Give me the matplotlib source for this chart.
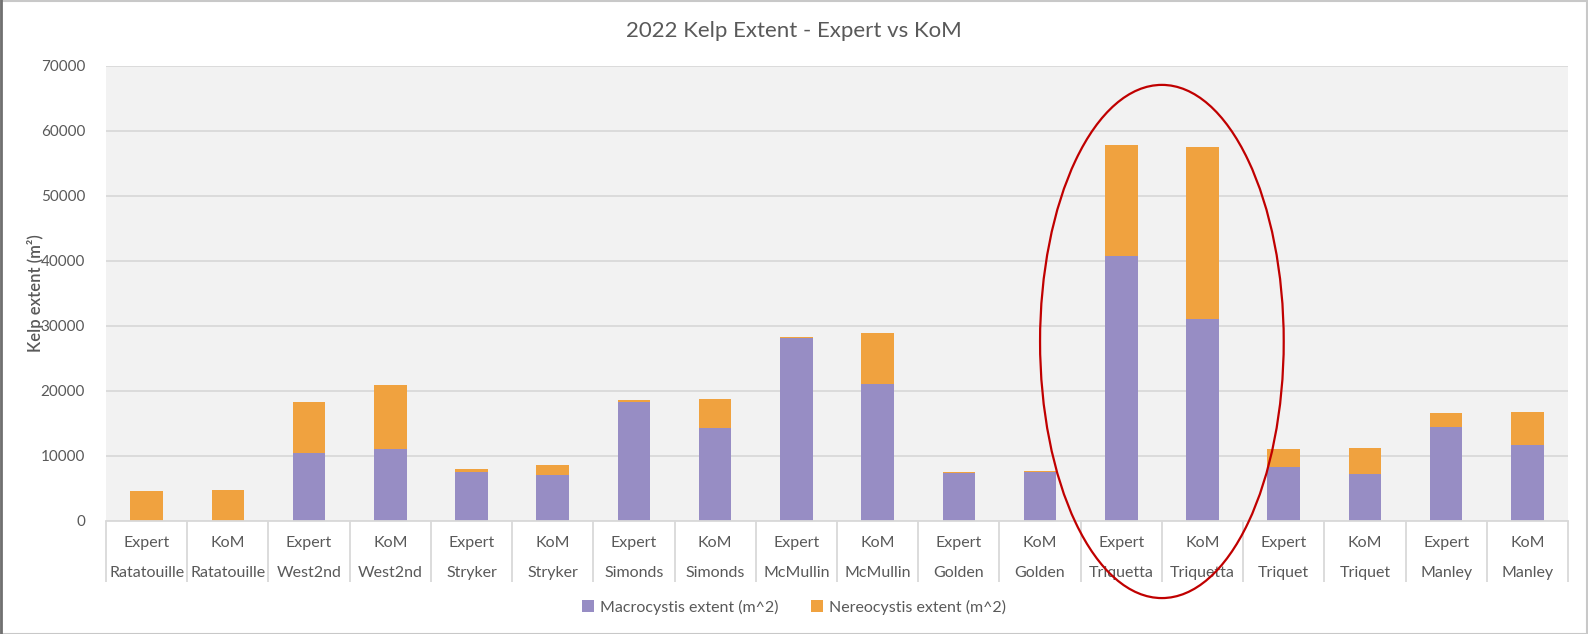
import matplotlib
matplotlib.use("Agg")
import matplotlib.pyplot as plt
import matplotlib.patches as mpatches
import numpy as np

# ── Data ─────────────────────────────────────────────────────────────────────
sites   = ["Ratatouille", "Ratatouille", "West2nd", "West2nd", "Stryker", "Stryker",
           "Simonds", "Simonds", "McMullin", "McMullin", "Golden", "Golden",
           "Triquetta", "Triquetta", "Triquet", "Triquet", "Manley", "Manley"]
sources = ["Expert", "KoM"] * 9
macro   = [0, 0, 10500, 11050, 7600, 7050, 18250, 14300, 28150, 21000,
           7350, 7500, 40800, 31100, 8300, 7250, 14450, 11750]
nereo   = [4650, 4800, 7850, 9850, 380, 1500, 380, 4450, 200, 7900,
           200, 220, 17050, 26350, 2750, 3950, 2100, 4950]
highlight_site = "Triquetta"

# ── Palette ──────────────────────────────────────────────────────────────────
_PURPLE = "#978DC4"
_ORANGE = "#F0A23F"
_PANEL  = "#F2F2F2"
_GRID   = "#D9D9D9"
_TEXT   = "#595959"
_RED    = "#C00000"

plt.rcParams["font.family"] = ["Lato", "DejaVu Sans"]

W, H = 1588, 634
fig = plt.figure(figsize=(W / 100, H / 100), dpi=100)
fig.patch.set_facecolor("white")

ax_l, ax_r, ax_t, ax_b = 106, 1568, 65.7, 521
ax = fig.add_axes([ax_l / W, 1 - ax_b / H, (ax_r - ax_l) / W, (ax_b - ax_t) / H])
ax.set_facecolor(_PANEL)

x = np.arange(len(sites))
ax.bar(x, macro, width=0.4, color=_PURPLE, zorder=3, label="Macrocystis extent (m^2)")
ax.bar(x, nereo, width=0.4, bottom=macro, color=_ORANGE, zorder=3,
       label="Nereocystis extent (m^2)")

ax.set_xlim(-0.5, len(sites) - 0.5)
ax.set_ylim(0, 70000)
ax.set_yticks(np.arange(0, 70001, 10000))
ax.yaxis.grid(True, color=_GRID, linewidth=1.3, zorder=0)
ax.tick_params(axis="y", length=0, pad=15, labelsize=11, labelcolor=_TEXT)
for s in ax.spines.values():
    s.set_visible(False)

# category "table" under the axis
ax.axhline(0, color=_GRID, linewidth=1.3, zorder=4, clip_on=False)
ax.set_xticks(x)
ax.set_xticklabels([])
ax.tick_params(axis="x", which="major", length=0)
ax.set_xticks(np.arange(-0.5, len(sites)), minor=True)
ax.tick_params(axis="x", which="minor", length=44, width=1.3, color=_GRID, direction="out")

axh = ax_b - ax_t
axw = ax_r - ax_l
trans = ax.get_xaxis_transform()
for xi, src, site in zip(x, sources, sites):
    ax.text(xi, -21.7 / axh, src, transform=trans, ha="center", va="center",
            fontsize=11.5, color=_TEXT)
    ax.text(xi, -51.7 / axh, site, transform=trans, ha="center", va="center",
            fontsize=11.5, color=_TEXT)

ax.set_ylabel("Kelp extent (m²)", fontsize=12, color=_TEXT, fontweight="semibold")
ax.yaxis.set_label_coords((44 - ax_l) / axw, 0.5)

fig.suptitle("2022 Kelp Extent - Expert vs KoM", y=1 - 31 / H, va="center",
             fontsize=16, color=_TEXT)

# highlight ellipse round the Triquetta pair
idx = [i for i, s in enumerate(sites) if s == highlight_site]
cx = (idx[0] + idx[-1]) / 2
ell = mpatches.Ellipse((cx, 27600), width=3.0, height=78900, fill=False,
                       edgecolor=_RED, linewidth=1.6, zorder=6, clip_on=False)
ax.add_patch(ell)

leg = fig.legend(loc="center", bbox_to_anchor=(0.5, 1 - 607 / H), ncol=2,
                 frameon=False, fontsize=11.5, labelcolor=_TEXT,
                 handlelength=0.75, handleheight=0.75, handletextpad=0.4,
                 columnspacing=2.0)

# outer chart frame
fig.add_artist(mpatches.Rectangle((0.5 / W, 0.5 / H), 1 - 1.5 / W, 1 - 1.5 / H,
                                  transform=fig.transFigure, fill=False,
                                  edgecolor="#C8C8C8", linewidth=1.5))
fig.add_artist(plt.Line2D([1 / W, 1 / W], [0, 1], transform=fig.transFigure,
                          color="#707070", linewidth=2))

fig.savefig("out.png", dpi=100, facecolor="white")
